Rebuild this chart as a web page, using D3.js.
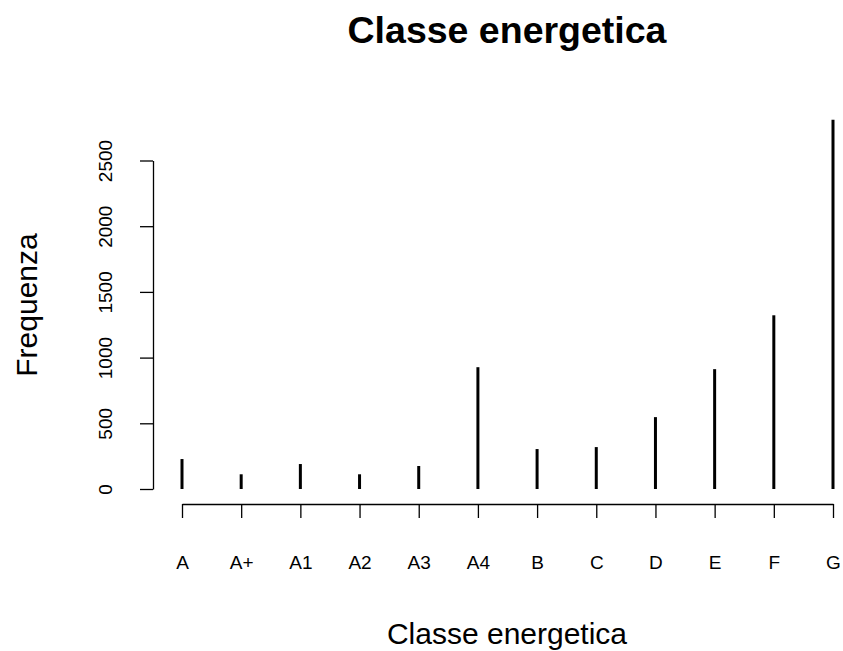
<!DOCTYPE html>
<html>
<head>
<meta charset="utf-8">
<script src="https://cdn.jsdelivr.net/npm/d3@7"></script>
<style>
body { margin: 0; background: #fff; }
text { font-family: "Liberation Sans", Arial, sans-serif; fill: #000; }
</style>
</head>
<body>
<div class="visual"></div>
<script>
// data
const classes = ["A", "A+", "A1", "A2", "A3", "A4", "B", "C", "D", "E", "F", "G"];
const counts = [228, 112, 190, 112, 175, 927, 304, 319, 547, 912, 1322, 2811];
const yTicks = [0, 500, 1000, 1500, 2000, 2500];

const width = 843, height = 651;

const svg = d3.select(".visual")
  .append("svg")
  .attr("width", width)
  .attr("height", height);

// scales
const xScale = d3.scalePoint().domain(classes).range([182, 833]);
const yScale = d3.scaleLinear().domain([0, 2500]).range([489, 160.5]);

// y axis
const yAxis = svg.append("g")
  .attr("transform", "translate(153,0)")
  .call(d3.axisLeft(yScale).tickValues(yTicks).tickFormat(d3.format("d"))
    .tickSize(13).tickSizeOuter(0).tickPadding(0));
yAxis.selectAll("path, line").attr("stroke", "#000").attr("stroke-width", 1.3);
yAxis.selectAll("text")
  .attr("transform", "rotate(-90)")
  .attr("x", 0)
  .attr("y", -41)
  .attr("dy", 0)
  .style("text-anchor", "middle")
  .style("font-size", "19px");

// x axis
const xAxis = svg.append("g")
  .attr("transform", "translate(0,504)")
  .call(d3.axisBottom(xScale).tickSize(14).tickSizeOuter(0).tickPadding(0));
xAxis.selectAll("path, line").attr("stroke", "#000").attr("stroke-width", 1.3);
xAxis.selectAll("text")
  .attr("y", 65)
  .attr("dy", 0)
  .style("font-size", "19px");

// spikes
svg.selectAll(".spike")
  .data(counts)
  .enter()
  .append("line")
  .attr("class", "spike")
  .attr("x1", (d, i) => xScale(classes[i]))
  .attr("x2", (d, i) => xScale(classes[i]))
  .attr("y1", yScale(0))
  .attr("y2", d => yScale(d))
  .attr("stroke", "#000")
  .attr("stroke-width", 3);

// title and labels
svg.append("text")
  .attr("x", 507)
  .attr("y", 43)
  .style("text-anchor", "middle")
  .style("font-size", "37.5px")
  .style("font-weight", "bold")
  .text("Classe energetica");

svg.append("text")
  .attr("x", 507)
  .attr("y", 644)
  .style("text-anchor", "middle")
  .style("font-size", "30px")
  .text("Classe energetica");

svg.append("text")
  .attr("transform", "rotate(-90)")
  .attr("x", -305)
  .attr("y", 37)
  .style("text-anchor", "middle")
  .style("font-size", "30px")
  .text("Frequenza");
</script>
</body>
</html>
